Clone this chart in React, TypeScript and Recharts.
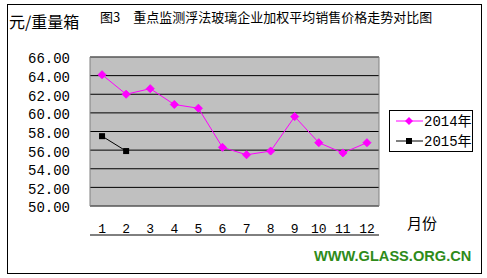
import React from "react";
import { LineChart, Line, XAxis, YAxis, CartesianGrid, ReferenceArea, Legend } from "recharts";

const months = [1, 2, 3, 4, 5, 6, 7, 8, 9, 10, 11, 12];
const price2014 = [64.1, 62.0, 62.6, 60.9, 60.5, 56.3, 55.5, 55.9, 59.6, 56.8, 55.7, 56.8];
const price2015: (number | null)[] = [57.5, 55.9, null, null, null, null, null, null, null, null, null, null];
const yTicks = [50, 52, 54, 56, 58, 60, 62, 64, 66];
const boundaryTicks = [1.5, 2.5, 3.5, 4.5, 5.5, 6.5, 7.5, 8.5, 9.5, 10.5, 11.5];

const data = months.map((m, i) => ({ month: m, y2014: price2014[i], y2015: price2015[i] }));

const numFont = "'Liberation Mono', 'DejaVu Sans Mono', monospace";
const cjkFont = "'Noto Sans CJK SC', sans-serif";

// diamond marker for 2014
const Diamond = (props: any) => {
  const { cx, cy } = props;
  if (cx == null || cy == null) return null;
  return <path d={`M${cx},${cy - 4}L${cx + 4},${cy}L${cx},${cy + 4}L${cx - 4},${cy}Z`} fill="#ff00ff" stroke="#ff00ff" />;
};

// square marker for 2015
const Square = (props: any) => {
  const { cx, cy, value } = props;
  if (cx == null || cy == null || value == null) return null;
  return <rect x={cx - 3} y={cy - 3} width={6} height={6} fill="#000" />;
};

const legendItems = [
  { label: "2014年", color: "#ff00ff", marker: "diamond" },
  { label: "2015年", color: "#000000", marker: "square" },
];

const renderLegend = () => (
  <div style={{ border: "1px solid #000", width: 82, height: 40, background: "#fff", boxSizing: "content-box" }}>
    {legendItems.map((it) => (
      <div key={it.label} style={{ display: "flex", alignItems: "center", height: 20 }}>
        <svg width={34} height={20}>
          <line x1={6} y1={10} x2={33} y2={10} stroke={it.color} strokeWidth={1} />
          {it.marker === "diamond" ? (
            <path d="M19,6L23,10L19,14L15,10Z" fill={it.color} />
          ) : (
            <rect x={16} y={7} width={6} height={6} fill={it.color} />
          )}
        </svg>
        <span style={{ fontFamily: `${numFont}`, fontSize: 14, color: "#000", lineHeight: "20px" }}>
          {it.label.slice(0, 4)}
          <span style={{ fontFamily: cjkFont }}>{it.label.slice(4)}</span>
        </span>
      </div>
    ))}
  </div>
);

export default function App() {
  return (
    <div style={{ position: "absolute", left: 0, top: 0, width: 487, height: 278, background: "#fff", overflow: "hidden" }}>
      <div style={{ position: "absolute", left: 7, top: 4, width: 473, height: 268, border: "1px solid #000" }} />
      <div style={{ position: "absolute", left: 9, top: 10, fontFamily: cjkFont, fontSize: 16, lineHeight: "22px", color: "#000" }}>
        元/重量箱
      </div>
      <div style={{ position: "absolute", left: 100, top: 8, fontFamily: cjkFont, fontSize: 13, lineHeight: "18px", color: "#000", whiteSpace: "pre" }}>
        图3　重点监测浮法玻璃企业加权平均销售价格走势对比图
      </div>
      <div style={{ position: "absolute", left: 407, top: 213, fontFamily: cjkFont, fontSize: 15, lineHeight: "20px", color: "#000" }}>
        月份
      </div>
      <div style={{ position: "absolute", left: 314, top: 247, fontFamily: "'Liberation Sans', Arial, sans-serif", fontWeight: 900, fontSize: 14.6, lineHeight: "18px", color: "#2e8b1a" }}>
        WWW.GLASS.ORG.CN
      </div>
      <LineChart
        width={487}
        height={278}
        data={data}
        margin={{ top: 57, right: 108, bottom: 42, left: 30 }}
        style={{ position: "absolute", left: 0, top: 0 }}
      >
        <CartesianGrid horizontal vertical={false} stroke="#000" fill="#c0c0c0" xAxisId="m" />
        <ReferenceArea xAxisId="m" x1={0.5} x2={12.5} y1={50} y2={66} fill="none" stroke="#808080" strokeWidth={1} />
        {/* inward tick marks between the months, also draws the axis line */}
        <XAxis
          xAxisId="t"
          type="number"
          dataKey="month"
          domain={[0.5, 12.5]}
          ticks={boundaryTicks}
          height={1}
          tickSize={-4}
          tick={false}
          axisLine={{ stroke: "#000" }}
          tickLine={{ stroke: "#000" }}
        />
        <XAxis
          xAxisId="m"
          type="number"
          dataKey="month"
          domain={[0.5, 12.5]}
          ticks={months}
          interval={0}
          height={29}
          tickSize={0}
          tickMargin={18}
          tickLine={false}
          axisLine={false}
          tick={{ fill: "#000", fontSize: 13, fontFamily: numFont }}
        />
        <YAxis
          type="number"
          domain={[50, 66]}
          ticks={yTicks}
          interval={0}
          width={60}
          tickSize={0}
          tickMargin={20}
          tickLine={false}
          axisLine={false}
          tickFormatter={(v: number) => v.toFixed(2)}
          tick={{ fill: "#000", fontSize: 14, fontFamily: numFont, dy: 1.5 }}
        />
        <Legend
          layout="vertical"
          align="center"
          verticalAlign="middle"
          content={renderLegend}
          wrapperStyle={{ position: "absolute", left: 389, top: 110, width: 84, height: 42 }}
        />
        <Line
          xAxisId="m"
          dataKey="y2014"
          stroke="#ff00ff"
          strokeWidth={1}
          dot={<Diamond />}
          isAnimationActive={false}
        />
        <Line
          xAxisId="m"
          dataKey="y2015"
          stroke="#000"
          strokeWidth={1}
          dot={<Square />}
          isAnimationActive={false}
        />
      </LineChart>
    </div>
  );
}
